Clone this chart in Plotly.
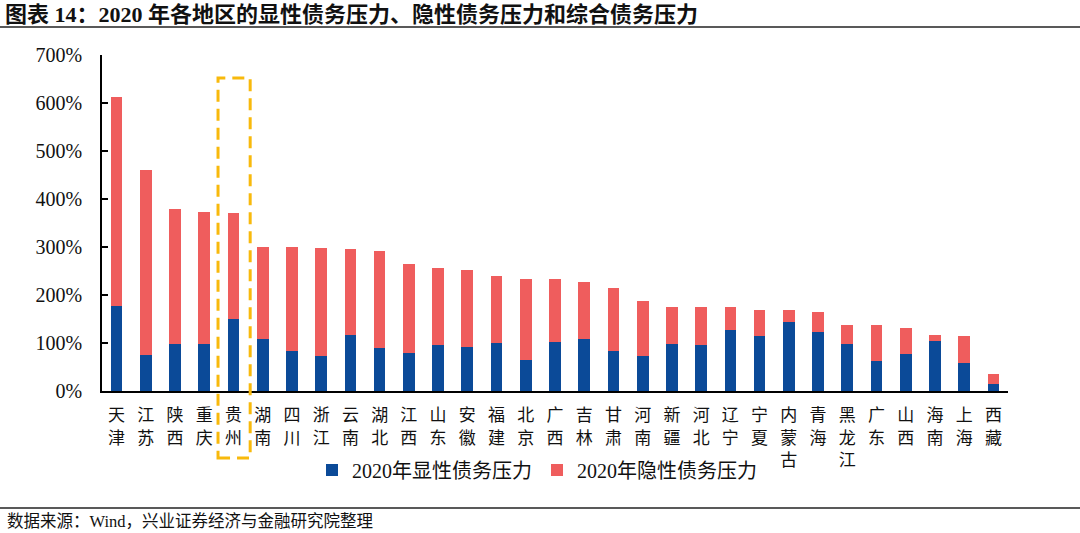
import plotly.graph_objects as go

regions = ["天津", "江苏", "陕西", "重庆", "贵州", "湖南", "四川", "浙江", "云南", "湖北",
           "江西", "山东", "安徽", "福建", "北京", "广西", "吉林", "甘肃", "河南", "新疆",
           "河北", "辽宁", "宁夏", "内蒙古", "青海", "黑龙江", "广东", "山西", "海南", "上海", "西藏"]
explicit = [178, 74, 97, 97, 151, 108, 83, 72, 117, 90,
            80, 95, 92, 101, 65, 103, 108, 84, 72, 97,
            95, 128, 115, 143, 123, 97, 63, 77, 104, 59, 14]
total = [613, 460, 379, 372, 371, 300, 299, 297, 295, 292,
         264, 257, 253, 240, 234, 233, 228, 215, 188, 176,
         176, 174, 169, 169, 165, 138, 138, 132, 116, 115, 35]
implicit = [t - e for t, e in zip(total, explicit)]
yticks = [0, 100, 200, 300, 400, 500, 600, 700]
highlight = "贵州"

W, H = 1080, 533
ML, MR, MT, MB = 102, 72, 55, 142
PW, PH = W - ML - MR, H - MT - MB

def px_x(p):
    return (p - ML) / PW

def px_y(p):
    return (H - MB - p) / PH

labels = ["<br>".join(list(r)) for r in regions]
blue = "#0B4A98"
red = "#EF5D5D"
serif = "Liberation Serif, 'Noto Sans CJK SC', serif"
cjk = "'Liberation Serif', 'Noto Sans CJK SC', sans-serif"

fig = go.Figure()
fig.add_bar(x=labels, y=explicit, name="2020年显性债务压力", marker=dict(color=blue, line=dict(width=0)))
fig.add_bar(x=labels, y=implicit, name="2020年隐性债务压力", marker=dict(color=red, line=dict(width=0)))

n = len(regions)
hi = regions.index(highlight)
shapes = [
    dict(type="rect", xref="paper", yref="paper",
         x0=(hi + 0.5 - 0.53) / n, x1=(hi + 0.5 + 0.57) / n,
         y0=px_y(458), y1=px_y(78),
         line=dict(color="#F8B90C", width=3, dash="12px,7px"), fillcolor="rgba(0,0,0,0)"),
    dict(type="line", xref="paper", yref="paper", x0=px_x(0), x1=px_x(W), y0=px_y(27), y1=px_y(27),
         line=dict(color="#222222", width=1.5)),
    dict(type="line", xref="paper", yref="paper", x0=px_x(0), x1=px_x(W), y0=px_y(508), y1=px_y(508),
         line=dict(color="#222222", width=1.5)),
]

fig.update_layout(
    width=W, height=H,
    barmode="stack", bargap=0.6,
    plot_bgcolor="white", paper_bgcolor="white",
    margin=dict(l=ML, r=MR, t=MT, b=MB),
    font=dict(family=cjk, color="#111111"),
    title=dict(text="<b>图表 14：2020 年各地区的显性债务压力、隐性债务压力和综合债务压力</b>",
               xref="container", x=5 / W, xanchor="left", yref="container", y=1 - 14 / H, yanchor="middle",
               font=dict(size=22, family=cjk, color="#111111")),
    xaxis=dict(type="category", range=[-0.5, n - 0.5], showline=True, linecolor="black", linewidth=2,
               ticks="", tickfont=dict(size=17, family=cjk, color="#111111"), tickangle=0,
               ticklabelstandoff=8,
               showgrid=False, zeroline=False, fixedrange=True),
    yaxis=dict(range=[0, 700], tickvals=yticks, ticktext=[f"{v}%" for v in yticks],
               showline=True, linecolor="black", linewidth=1.5, ticks="inside", ticklen=6,
               tickcolor="black", tickwidth=1.5, showgrid=False, zeroline=False,
               ticklabelstandoff=14,
               tickfont=dict(size=20, family=serif, color="#111111"), fixedrange=True),
    legend=dict(orientation="h", x=px_x(537), xanchor="center", y=px_y(470), yanchor="middle",
                font=dict(size=20, family=cjk, color="#111111"), traceorder="normal",
                itemwidth=30, bgcolor="rgba(0,0,0,0)"),
    shapes=shapes,
    annotations=[dict(text="数据来源：Wind，兴业证券经济与金融研究院整理", xref="paper", yref="paper",
                      x=px_x(5), y=px_y(521), xanchor="left", yanchor="middle", showarrow=False,
                      font=dict(size=16.5, family=cjk, color="#111111"))],
)

fig.write_html("out.html", config={"displayModeBar": False},
               post_script="document.body.style.margin='0';document.body.style.overflow='hidden';")
